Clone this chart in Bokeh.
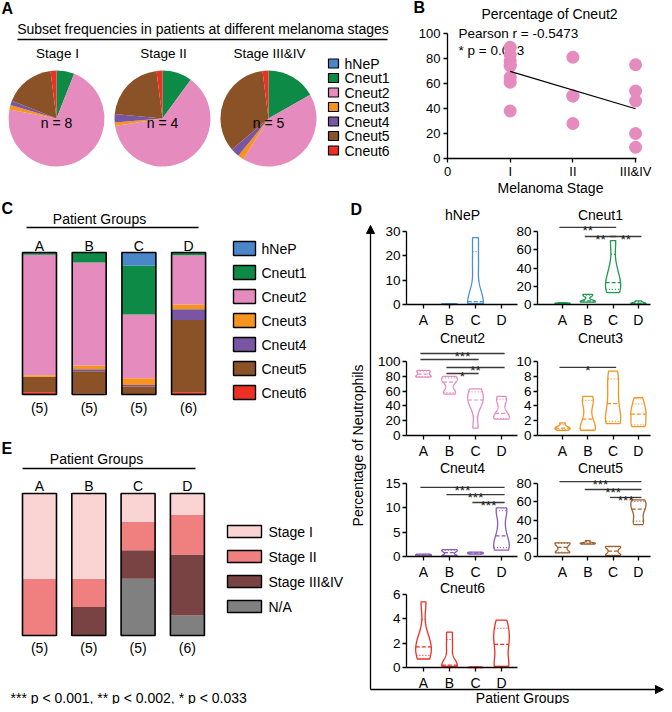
import numpy as np
from bokeh.plotting import figure
from bokeh.models import Range1d, LinearAxis, FixedTicker, Arrow, NormalHead, ColumnDataSource
from bokeh.core.properties import value
from bokeh.embed import file_html
from bokeh.resources import INLINE

FONT = "Liberation Sans"

# ---------------- data ----------------
subsets = ["hNeP", "Cneut1", "Cneut2", "Cneut3", "Cneut4", "Cneut5", "Cneut6"]
subset_colors = ["#4A87C9", "#0C8A46", "#E68BBE", "#F7941D", "#7856A3", "#8B5127", "#EC3024"]
violin_colors = ["#4A90D9", "#1F9A50", "#E58BC0", "#F6921E", "#8A5BB8", "#A0622F", "#EE2E24"]

# Panel A: pie charts of subset frequencies (%)
stages = ["Stage I", "Stage II", "Stage III&IV"]
stage_n = [8, 4, 5]
pie_stage_I = [0, 6.0, 72.0, 1.5, 1.5, 17.0, 2.0]
pie_stage_II = [0, 10.0, 62.5, 1.2, 2.8, 21.5, 2.0]
pie_stage_III_IV = [0, 16.8, 42.0, 2.0, 3.0, 34.2, 2.0]

# Panel B: Cneut2 percentage vs melanoma stage
b_stage_ticks = ["0", "I", "II", "III&IV"]
b_stage_idx = [1] * 8 + [2] * 4 + [3] * 5
b_cneut2_pct = [89, 83, 78, 75, 74, 65, 61, 38, 81, 50, 50, 28, 75, 54, 46, 20, 9]
b_y_ticks = [0, 20, 40, 60, 80, 100]
b_stats = ["Pearson r = -0.5473", "* p = 0.023"]

# Panel C: subset composition per patient group (%)
groups = ["A", "B", "C", "D"]
group_n = [5, 5, 5, 6]
comp_A = [0, 1.5, 85.0, 1.0, 0, 11.0, 1.5]
comp_B = [0, 7.0, 72.5, 2.8, 1.4, 15.8, 0.5]
comp_C = [9.4, 34.2, 45.0, 4.7, 1.0, 5.7, 0]
comp_D = [0, 1.9, 34.8, 3.3, 7.5, 50.9, 1.6]

# Panel E: stage composition per patient group (%)
stage_cats = ["Stage I", "Stage II", "Stage III&IV", "N/A"]
stage_colors = ["#FAD3D3", "#F07F7F", "#7A4343", "#808080"]
stage_A = [60, 40, 0, 0]
stage_B = [60, 20, 20, 0]
stage_C = [20, 20, 20, 40]
stage_D = [15, 28, 43, 14]

# Panel D: per-patient percentages for each subset, groups A-D
vio_hNeP = [[0, 0, 0, 0, 0], [0, 0.1, 0.2, 0.2, 0.3], [0.3, 0.8, 1.2, 16, 27.5], [0, 0, 0, 0, 0, 0]]
vio_Cneut1 = [[0.6, 1.0, 1.2, 1.5, 2.0], [2.5, 3.0, 4.0, 9.5, 11.0], [13, 20, 24, 40, 70], [0.5, 1.0, 1.5, 2.5, 4.0]]
vio_Cneut2 = [[79, 80, 83, 86, 88], [56, 60, 72, 76, 80], [10, 40, 48, 55, 63], [22, 24, 30, 45, 53]]
vio_Cneut3 = [[0.7, 0.9, 1.0, 1.2, 1.7], [0.7, 0.8, 2.2, 4.2, 5.3], [1.6, 2.2, 4.3, 6.6, 8.7], [1.2, 1.5, 2.6, 3.2, 4.0, 5.1]]
vio_Cneut4 = [[0.1, 0.2, 0.3, 0.4, 0.5], [0.1, 0.2, 0.8, 1.2, 1.4], [0.5, 0.6, 0.7, 0.8, 0.9], [1.3, 2.0, 3.0, 5.5, 9.2, 10.0]]
vio_Cneut5 = [[4, 5, 10, 14, 15], [13.5, 14, 14.5, 15, 17.5], [1, 2, 6, 10, 11], [35, 40, 50, 54, 60, 62]]
vio_Cneut6 = [[0.7, 1.3, 1.7, 2.5, 5.4], [0.1, 0.1, 0.2, 1.7, 2.9], [0, 0, 0.02, 0.03, 0.05], [0.1, 0.1, 1.5, 2.3, 3.0, 3.9]]
vio_ticks = {
    "hNeP": [0, 10, 20, 30], "Cneut1": [0, 20, 40, 60, 80], "Cneut2": [0, 20, 40, 60, 80, 100],
    "Cneut3": [0, 2, 4, 6, 8, 10], "Cneut4": [0, 5, 10, 15], "Cneut5": [0, 20, 40, 60, 80],
    "Cneut6": [0, 2, 4, 6],
}
# significance brackets: (group i, group j, level, label)
sig_Cneut1 = [(0, 2, 84.5, "**"), (1, 2, 74.5, "**"), (2, 3, 74.5, "**")]
sig_Cneut2 = [(0, 3, 110.8, "***"), (0, 2, 102.7, ""), (1, 3, 91.9, "**"), (1, 2, 83.8, "*")]
sig_Cneut3 = [(0, 2, 9.2, "*")]
sig_Cneut4 = [(0, 3, 14.2, "***"), (1, 3, 12.7, "***"), (2, 3, 11.1, "***")]
sig_Cneut5 = [(0, 3, 82.0, "***"), (1, 3, 73.4, "***"), (2, 3, 64.7, "***")]
footnote = "*** p < 0.001, ** p < 0.002, * p < 0.033"

# ---------------- figure ----------------
W, H = 664, 704
OX, OY = 5, 5  # reference pixel shown at the figure's top-left corner

p = figure(width=W, height=H, output_backend="svg", toolbar_location=None,
           x_range=Range1d(OX, OX + W), y_range=Range1d(-(OY + H), -OY),
           x_axis_type=None, y_axis_type=None, min_border=0)
p.outline_line_color = None
p.background_fill_color = "white"
p.border_fill_color = "white"

XR, YR = {}, {}


class Space:
    def __init__(self, name, x0, sx, y0, sy, register=True):
        self.x0, self.sx, self.y0, self.sy = x0, sx, y0, sy
        if register:
            XR[name + "_x"] = Range1d((OX - x0) / sx, (OX + W - x0) / sx)
            YR[name + "_y"] = Range1d((y0 - (OY + H)) / sy, (y0 - OY) / sy)
            self.kw = dict(x_range_name=name + "_x", y_range_name=name + "_y")
        else:
            self.kw = {}

    def X(self, px):
        return (px - self.x0) / self.sx

    def Y(self, py):
        return (self.y0 - py) / self.sy


PX = Space("px", 0, 1, 0, 1, register=False)


def T(sp, x, y, s, size=14, align="center", bold=False, angle=0.0, color="black",
      baseline="middle", yoff=0):
    p.text(x=[x], y=[y], text=[s], text_font=value(FONT), text_font_size=f"{size}px",
           text_font_style=("bold" if bold else "normal"), text_align=align,
           text_baseline=baseline, angle=angle, text_color=color, y_offset=yoff, **sp.kw)


def hline(x0, x1, y, w=1.4):
    p.segment(x0=[x0], x1=[x1], y0=[-y], y1=[-y], line_color="black", line_width=w)


def style_axis(ax, size="13.5px", standoff=2):
    ax.axis_line_color = "black"
    ax.axis_line_width = 1.3
    ax.major_tick_line_color = "black"
    ax.major_tick_line_width = 1.3
    ax.major_tick_in = 0
    ax.major_tick_out = 4
    ax.minor_tick_line_color = None
    ax.major_label_text_font = FONT
    ax.major_label_text_font_size = size
    ax.major_label_text_color = "black"
    ax.major_label_standoff = standoff


# ================= Panel A =================
T(PX, 6, PX.Y(13), "A", 16, "left", True)
T(PX, 207.5, PX.Y(33), "Subset frequencies in patients at different melanoma stages", 14)
hline(22, 392, 44)
pie_cx = [61, 167, 273]
for comp, cx, lab, n in zip([pie_stage_I, pie_stage_II, pie_stage_III_IV], pie_cx, stages, stage_n):
    fr = np.array(comp, float) / np.sum(comp)
    cum = np.concatenate([[0.0], np.cumsum(fr)])
    st = np.pi / 2 - 2 * np.pi * cum[:-1]
    en = np.pi / 2 - 2 * np.pi * cum[1:]
    keep = fr > 0
    p.wedge(x=cx, y=PX.Y(123), radius=48, start_angle=list(st[keep]), end_angle=list(en[keep]),
            direction="clock", fill_color=[c for c, k in zip(subset_colors, keep) if k], line_color=None)
    T(PX, cx + 1, PX.Y(58), lab, 13.5)
    T(PX, cx, PX.Y(127), f"n = {n}", 14)
for k, (s, c) in enumerate(zip(subsets, subset_colors)):
    yy = 68 + 14.5 * k
    p.rect(x=[338], y=[PX.Y(yy)], width=10, height=9, fill_color=c, line_color="black", line_width=1.2)
    T(PX, 349, PX.Y(yy), s, 14, "left")

# ================= Panel B =================
T(PX, 418, PX.Y(12), "B", 16, "left", True)
SB = Space("b", 452, 62.7, 163, 1.25)
T(PX, 554, PX.Y(18), "Percentage of Cneut2", 14)
T(PX, 463, PX.Y(38), b_stats[0], 13.5, "left")
T(PX, 463, PX.Y(55), b_stats[1], 13.5, "left")
p.scatter(x=b_stage_idx, y=b_cneut2_pct, size=13, fill_color="#E68BBE", line_color=None, **SB.kw)
slope, icpt = np.polyfit(b_stage_idx, b_cneut2_pct, 1)
p.line(x=[1, 3], y=[icpt + slope, icpt + 3 * slope], line_color="black", line_width=1.2, **SB.kw)
ax = LinearAxis(ticker=FixedTicker(ticks=b_y_ticks), fixed_location=0, bounds=(0, 100), **SB.kw)
style_axis(ax, "13px", 3)
p.add_layout(ax, "left")
ax = LinearAxis(ticker=FixedTicker(ticks=[0, 1, 2, 3]), fixed_location=0, bounds=(0, 3.02),
                major_label_overrides={i: t for i, t in enumerate(b_stage_ticks)}, **SB.kw)
style_axis(ax, "13px", 1)
p.add_layout(ax, "below")
T(PX, 555, PX.Y(192), "Melanoma Stage", 14)

# ================= Panel C =================
T(PX, 6, PX.Y(213), "C", 16, "left", True)
T(PX, 104, PX.Y(223), "Patient Groups", 14)
hline(31, 203, 232)
SC = Space("c", 44, 49.7, 399, 1.42)
cdata = dict(x=list(range(4)))
for k, s in enumerate(subsets):
    cdata[s] = [comp_A[k], comp_B[k], comp_C[k], comp_D[k]]
src_c = ColumnDataSource(cdata)
p.vbar_stack(subsets[::-1], x="x", width=34 / 49.7, color=subset_colors[::-1], line_color=None,
             source=src_c, **SC.kw)
tot_c = [sum(c) for c in (comp_A, comp_B, comp_C, comp_D)]
p.vbar(x=list(range(4)), bottom=0, top=tot_c, width=34 / 49.7, fill_color=None,
       line_color="black", line_width=1.6, **SC.kw)
for i, (g, n) in enumerate(zip(groups, group_n)):
    T(SC, i, SC.Y(250), g, 14)
    T(SC, i, SC.Y(412), f"({n})", 14)
for k, (s, c) in enumerate(zip(subsets, subset_colors)):
    yy = 253 + 24 * k
    p.rect(x=[249], y=[PX.Y(yy)], width=22, height=14, fill_color=c, line_color="black", line_width=1.4)
    T(PX, 266, PX.Y(yy), s, 14, "left")

# ================= Panel E =================
T(PX, 6, PX.Y(453), "E", 16, "left", True)
T(PX, 101, PX.Y(463), "Patient Groups", 14)
hline(27, 200, 473)
SE = Space("e", 44, 49.3, 640, 1.42)
edata = dict(x=list(range(4)))
for k, s in enumerate(stage_cats):
    edata[s] = [stage_A[k], stage_B[k], stage_C[k], stage_D[k]]
src_e = ColumnDataSource(edata)
p.vbar_stack(stage_cats[::-1], x="x", width=34 / 49.3, color=stage_colors[::-1], line_color=None,
             source=src_e, **SE.kw)
tot_e = [sum(c) for c in (stage_A, stage_B, stage_C, stage_D)]
p.vbar(x=list(range(4)), bottom=0, top=tot_e, width=34 / 49.3, fill_color=None,
       line_color="black", line_width=1.6, **SE.kw)
for i, (g, n) in enumerate(zip(groups, group_n)):
    T(SE, i, SE.Y(490), g, 14)
    T(SE, i, SE.Y(652), f"({n})", 14)
for k, (s, c) in enumerate(zip(stage_cats, stage_colors)):
    yy = 536 + 25 * k
    p.rect(x=[249], y=[PX.Y(yy)], width=34, height=12, fill_color=c, line_color="black", line_width=1.4)
    T(PX, 273, PX.Y(yy), s, 14, "left")
T(PX, 15, PX.Y(702), footnote, 14, "left")

# ================= Panel D =================
T(PX, 355, PX.Y(214), "D", 16, "left", True)
head = dict(size=8, fill_color="black", line_color="black", line_width=1)
p.add_layout(Arrow(end=NormalHead(**head), x_start=375, y_start=PX.Y(694), x_end=375, y_end=PX.Y(230),
                   line_color="black", line_width=1.3))
p.add_layout(Arrow(end=NormalHead(**head), x_start=375, y_start=PX.Y(694), x_end=668, y_end=PX.Y(694),
                   line_color="black", line_width=1.3))
T(PX, 362, PX.Y(450), "Percentage of Neutrophils", 14, angle=np.pi / 2)
T(PX, 527, PX.Y(702), "Patient Groups", 14)

HALF = 0.3


def pctl(vals, q):
    v = np.sort(np.asarray(vals, float))
    n = len(v)
    pos = q * (n + 1)
    if pos <= 1:
        return v[0]
    if pos >= n:
        return v[-1]
    k = int(np.floor(pos))
    f = pos - k
    return v[k - 1] + f * (v[k] - v[k - 1])


def violin(sp, i, vals, color):
    v = np.asarray(vals, float)
    lo, hi = v.min(), v.max()
    if hi - lo <= 0:
        return
    bw = 0.2 * (hi - lo)
    ys = np.linspace(lo, hi, 90)
    dens = np.exp(-0.5 * ((ys[:, None] - v[None, :]) / bw) ** 2).sum(1)
    w = HALF * dens / dens.max()
    xs = np.concatenate([i + w, (i - w)[::-1]])
    yy = np.concatenate([ys, ys[::-1]])
    p.patch(x=list(xs), y=list(yy), fill_alpha=0, line_color=color, line_width=1.3, **sp.kw)
    for q, dash in ((0.25, "1 2"), (0.5, "4 2"), (0.75, "1 2")):
        yq = pctl(vals, q)
        wq = float(np.interp(yq, ys, w))
        p.segment(x0=[i - wq], x1=[i + wq], y0=[yq], y1=[yq], line_color=color,
                  line_width=1.2, line_dash=dash, **sp.kw)


# (name, values, sig, A-pixel, px/category, zero-pixel, top-tick-pixel, y-axis px, x-axis end px, title y)
d_layout = [
    ("hNeP", vio_hNeP, [], 428, 26.0, 309, 236, 411, 522, 219),
    ("Cneut1", vio_Cneut1, sig_Cneut1, 567, 25.3, 309, 236, 542, 655, 219),
    ("Cneut2", vio_Cneut2, sig_Cneut2, 428, 26.0, 440, 366, 411, 522, 342),
    ("Cneut3", vio_Cneut3, sig_Cneut3, 567, 25.3, 440, 366, 542, 655, 342),
    ("Cneut4", vio_Cneut4, sig_Cneut4, 428, 26.0, 561, 488, 411, 522, 472),
    ("Cneut5", vio_Cneut5, sig_Cneut5, 567, 25.3, 561, 488, 542, 655, 472),
    ("Cneut6", vio_Cneut6, [], 428, 26.0, 672, 599, 411, 522, 592),
]
for (name, vals, sig, ax_px, spx, zero_px, top_px, yax_px, xend_px, title_y) in d_layout:
    ticks = vio_ticks[name]
    sp = Space("d_" + name, ax_px, spx, zero_px, (zero_px - top_px) / ticks[-1])
    color = violin_colors[subsets.index(name)]
    for i, v in enumerate(vals):
        violin(sp, i, v, color)
    for (i, j, lvl, lab) in sig:
        p.segment(x0=[i - 0.12], x1=[j + 0.12], y0=[lvl], y1=[lvl], line_color="#3a3a3a",
                  line_width=1.3, **sp.kw)
        if lab:
            T(sp, (i + j) / 2, lvl, lab, 13.5, color="#222222", baseline="alphabetic", yoff=3)
    T(sp, 1.5, sp.Y(title_y), name, 14)
    ay = LinearAxis(ticker=FixedTicker(ticks=ticks), fixed_location=sp.X(yax_px),
                    bounds=(0, ticks[-1]), **sp.kw)
    style_axis(ay, "13.5px", 2)
    p.add_layout(ay, "left")
    axx = LinearAxis(ticker=FixedTicker(ticks=[0, 1, 2, 3]), fixed_location=0,
                     bounds=(sp.X(yax_px), sp.X(xend_px)),
                     major_label_overrides={i: g for i, g in enumerate(groups)}, **sp.kw)
    style_axis(axx, "14px", 3)
    p.add_layout(axx, "below")

p.extra_x_ranges = XR
p.extra_y_ranges = YR

open("out.html", "w").write(file_html(p, INLINE))
